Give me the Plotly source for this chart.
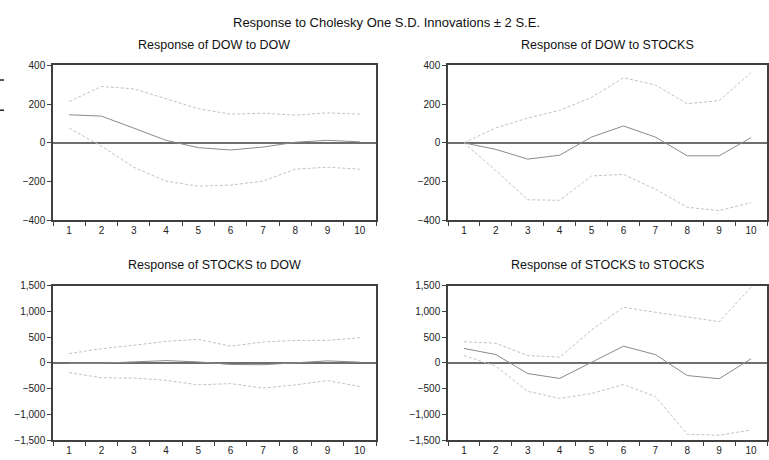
import plotly.graph_objects as go

periods = ["1", "2", "3", "4", "5", "6", "7", "8", "9", "10"]

dow_dow = [145, 138, 76, 13, -25, -37, -22, 3, 13, 5]
dow_dow_up = [213, 291, 279, 227, 176, 148, 153, 143, 155, 148]
dow_dow_lo = [76, -17, -126, -198, -224, -218, -198, -136, -126, -136]

dow_stk = [0, -34, -84, -64, 30, 87, 30, -67, -67, 27]
dow_stk_up = [0, 77, 128, 168, 235, 336, 299, 202, 218, 363]
dow_stk_lo = [0, -143, -294, -297, -171, -163, -239, -333, -350, -309]

stk_dow = [-5, -5, 20, 45, 20, -30, -35, 5, 40, 15]
stk_dow_up = [181, 275, 343, 419, 456, 325, 406, 437, 437, 487]
stk_dow_lo = [-187, -287, -293, -337, -425, -400, -487, -425, -343, -456]

stk_stk = [281, 162, -206, -300, 12, 325, 162, -244, -306, 81]
stk_stk_up = [412, 381, 143, 112, 637, 1081, 981, 893, 800, 1468]
stk_stk_lo = [143, -62, -550, -687, -593, -418, -650, -1381, -1400, -1300]

titles = ["Response of DOW to DOW", "Response of DOW to STOCKS",
          "Response of STOCKS to DOW", "Response of STOCKS to STOCKS"]
main_title = "Response to Cholesky One S.D. Innovations \u00b1 2 S.E."

panels = [
    (dow_dow, dow_dow_up, dow_dow_lo),
    (dow_stk, dow_stk_up, dow_stk_lo),
    (stk_dow, stk_dow_up, stk_dow_lo),
    (stk_stk, stk_stk_up, stk_stk_lo),
]

W, H = 769, 460
xdoms = [[53 / W, 376 / W], [448 / W, 767 / W]]
ydoms = [[1 - 220 / H, 1 - 61 / H], [1 - 446 / H, 1 - 287 / H]]

SOLID = "#8a8a8a"
DASH = "#c2c2c2"
FONT = "Liberation Sans, Arial, sans-serif"

fig = go.Figure()
layout = {}
annotations = []
for i, (mid, up, lo) in enumerate(panels):
    r, c = divmod(i, 2)
    n = i + 1
    xa = "x" if n == 1 else f"x{n}"
    ya = "y" if n == 1 else f"y{n}"
    for series, color, dash in ((up, DASH, "3px,2px"), (lo, DASH, "3px,2px"), (mid, SOLID, "solid")):
        fig.add_trace(go.Scatter(x=periods, y=series, mode="lines",
                                 line=dict(color=color, width=1, dash=dash),
                                 xaxis=xa, yaxis=ya, showlegend=False,
                                 hoverinfo="skip", cliponaxis=False))
    if r == 0:
        yrange, ytv = [-400, 400], [-400, -200, 0, 200, 400]
    else:
        yrange, ytv = [-1500, 1500], [-1500, -1000, -500, 0, 500, 1000, 1500]
    layout[f"xaxis{'' if n == 1 else n}"] = dict(
        domain=xdoms[c], anchor=ya, type="category", tickson="boundaries",
        range=[-0.5, 9.5],
        ticks="outside", ticklen=4, tickcolor="#404040", showgrid=False,
        showline=True, mirror=True, linecolor="#404040", linewidth=1.5,
        tickfont=dict(size=10, color="#222"), zeroline=False)
    layout[f"yaxis{'' if n == 1 else n}"] = dict(
        domain=ydoms[r], anchor=xa, range=yrange, tickvals=ytv,
        tickformat=",", ticks="outside", ticklen=4, tickcolor="#404040",
        showgrid=False, showline=True, mirror=True, linecolor="#404040",
        linewidth=1.5, zeroline=True, zerolinecolor="#6e6e6e",
        zerolinewidth=2, tickfont=dict(size=10, color="#222"))
    annotations.append(dict(text=titles[i], xref="paper", yref="paper",
                            x=sum(xdoms[c]) / 2, y=ydoms[r][1] + 21 / H,
                            xanchor="center", yanchor="middle", showarrow=False,
                            font=dict(size=12.5, color="#111", family=FONT)))

annotations.append(dict(text=main_title, xref="paper", yref="paper",
                        x=386 / W, y=1 - 17 / H, xanchor="center",
                        yanchor="middle", showarrow=False,
                        font=dict(size=13, color="#111", family=FONT)))

shapes = [
    dict(type="line", xref="paper", yref="paper", x0=0, x1=4 / W,
         y0=1 - 76 / H, y1=1 - 76 / H, line=dict(color="#222", width=1.5)),
    dict(type="line", xref="paper", yref="paper", x0=0, x1=4 / W,
         y0=1 - 107 / H, y1=1 - 107 / H, line=dict(color="#222", width=1.5)),
]

fig.update_layout(width=W, height=H, margin=dict(l=0, r=0, t=0, b=0),
                  paper_bgcolor="white", plot_bgcolor="white",
                  font=dict(family=FONT, size=10, color="#222"),
                  annotations=annotations, shapes=shapes, **layout)

fig.write_html("out.html")
